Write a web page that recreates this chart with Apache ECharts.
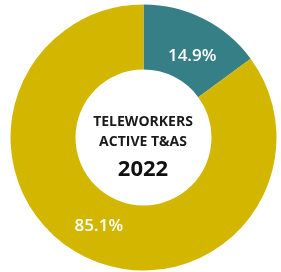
<!DOCTYPE html>
<html>
<head>
<meta charset="utf-8">
<script src="https://cdn.jsdelivr.net/npm/echarts@6/dist/echarts.min.js"></script>
<style>
  html, body { margin: 0; padding: 0; background: #fff; }
  #chart { width: 281px; height: 272px; }
</style>
</head>
<body>
<div id="chart"></div>
<script>
// share of active T&AS staff, 2022
const categories = ['Teleworkers', 'Non-teleworkers']
const values = [14.9, 85.1]
const colors = ['#377f87', '#d3b600']
const labelShift = [[4, 7], [0, 0]]
const centerLines = ['TELEWORKERS', 'ACTIVE T&AS']
const centerYear = '2022'

const chart = echarts.init(document.getElementById('chart'))

let option = {
  animation: false,
  title: {
    text: centerLines.join('\n') + '\n{y|' + centerYear + '}',
    left: 143,
    top: 112,
    padding: 0,
    textAlign: 'center',
    textStyle: {
      fontFamily: 'Open Sans',
      fontSize: 14,
      fontWeight: 'bold',
      color: '#1a1a1a',
      lineHeight: 20,
      rich: {
        y: {
          fontFamily: 'Open Sans',
          fontSize: 22,
          fontWeight: 'bold',
          color: '#111',
          lineHeight: 36
        }
      }
    }
  },
  series: [
    {
      type: 'pie',
      center: [143.5, 137.5],
      radius: [68, 133],
      startAngle: 90,
      clockwise: true,
      silent: true,
      data: categories.map((name, i) => ({
        name: name,
        value: values[i],
        itemStyle: { color: colors[i] }
      })),
      label: { show: false },
      labelLine: { show: false }
    },
    {
      // invisible ring, only to place the percentages a bit inside the middle
      type: 'pie',
      center: [143.5, 137.5],
      radius: [68, 124],
      startAngle: 90,
      clockwise: true,
      silent: true,
      data: categories.map((name, i) => ({
        name: name,
        value: values[i],
        label: { offset: labelShift[i] }
      })),
      itemStyle: { color: 'rgba(0,0,0,0)' },
      label: {
        position: 'inside',
        formatter: p => p.value.toFixed(1) + '%',
        color: '#fff',
        fontFamily: 'Open Sans',
        fontSize: 17,
        fontWeight: 600
      },
      labelLine: { show: false }
    }
  ]
}

chart.setOption(option)
</script>
</body>
</html>
